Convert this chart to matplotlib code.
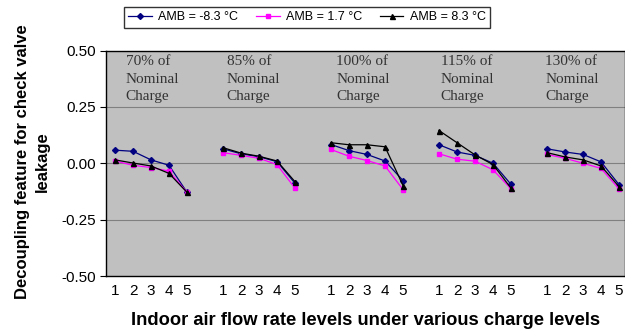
import matplotlib
matplotlib.use("Agg")
import matplotlib.pyplot as plt
import numpy as np

groups = ["70% of\nNominal\nCharge", "85% of\nNominal\nCharge", "100% of\nNominal\nCharge",
          "115% of\nNominal\nCharge", "130% of\nNominal\nCharge"]
levels = ["1", "2", "3", "4", "5"]
series_names = ["AMB = -8.3 °C", "AMB = 1.7 °C", "AMB = 8.3 °C"]

amb_m83 = [[0.058, 0.053, 0.015, -0.009, -0.129],
           [0.064, 0.042, 0.029, 0.007, -0.089],
           [0.083, 0.056, 0.039, 0.010, -0.077],
           [0.082, 0.050, 0.035, 0.000, -0.094],
           [0.064, 0.050, 0.039, 0.006, -0.095]]
amb_17 = [[0.010, -0.009, -0.019, -0.035, -0.129],
          [0.047, 0.035, 0.022, -0.006, -0.111],
          [0.061, 0.031, 0.012, -0.012, -0.117],
          [0.042, 0.018, 0.009, -0.029, -0.114],
          [0.039, 0.022, 0.000, -0.023, -0.114]]
amb_83 = [[0.015, 0.001, -0.012, -0.045, -0.129],
          [0.069, 0.045, 0.031, 0.010, -0.082],
          [0.091, 0.082, 0.082, 0.073, -0.099],
          [0.145, 0.091, 0.037, -0.006, -0.111],
          [0.047, 0.028, 0.015, -0.012, -0.104]]

label_x = [0.6, 6.2, 12.3, 18.1, 23.9]

fig = plt.figure(figsize=(6.25, 3.33), dpi=100)
ax = fig.add_axes([106/625, 1-276/333, 1-106/625, (276-50.5)/333])
ax.set_facecolor("#C0C0C0")

styles = [dict(color="#000080", marker="D", markersize=3, mfc="#000080"),
          dict(color="#FF00FF", marker="s", markersize=3.2, mfc="#FF00FF"),
          dict(color="#000000", marker="^", markersize=3.6, mfc="#000000")]

for sdata, st, name in zip([amb_m83, amb_17, amb_83], styles, series_names):
    for g, vals in enumerate(sdata):
        xs = [g*6 + i for i in range(len(levels))]
        ax.plot(xs, vals, lw=0.9, label=name if g == 0 else None, zorder=3, **st)

ax.set_xlim(-0.5, 28.33)
ax.set_ylim(-0.5, 0.5)
ax.set_yticks([-0.5, -0.25, 0, 0.25, 0.5])
ax.set_yticklabels(["-0.50", "-0.25", "0.00", "0.25", "0.50"], fontsize=11, family="Liberation Sans")
xt = [g*6 + i for g in range(len(groups)) for i in range(len(levels))]
ax.set_xticks(xt)
ax.set_xticklabels(levels*len(groups), fontsize=11, family="Liberation Sans")
ax.tick_params(axis="x", length=0, pad=6)
ax.tick_params(axis="y", length=4, width=0.8, direction="out", pad=3)
for y in [-0.25, 0, 0.25]:
    ax.axhline(y, color="#808080", lw=0.8, zorder=1)
for s in ax.spines.values():
    s.set_color("black")
    s.set_linewidth(1.0)

for lx, txt in zip(label_x, groups):
    ax.text(lx, 0.478, txt, ha="left", va="top", fontsize=11, family="Liberation Serif",
            color="#333333", linespacing=1.45)

ax.set_xlabel("Indoor air flow rate levels under various charge levels", fontsize=13.2,
              fontweight="bold", family="Liberation Sans", labelpad=10)
fig.text(32.5/625, 1-162/333, "Decoupling feature for check valve\nleakage", rotation=90,
         ha="center", va="center", fontsize=12, fontweight="bold", family="Liberation Sans",
         linespacing=1.45)

leg = fig.legend(loc="center", bbox_to_anchor=(307/625, 1-17.5/333), ncol=3, frameon=True,
                 fancybox=False, edgecolor="black", handlelength=1.9,
                 columnspacing=1.4, handletextpad=0.5, borderpad=0.35,
                 prop={"family": "Liberation Sans", "size": 9})
leg.get_frame().set_linewidth(1.0)

fig.savefig("out.png", dpi=100)
